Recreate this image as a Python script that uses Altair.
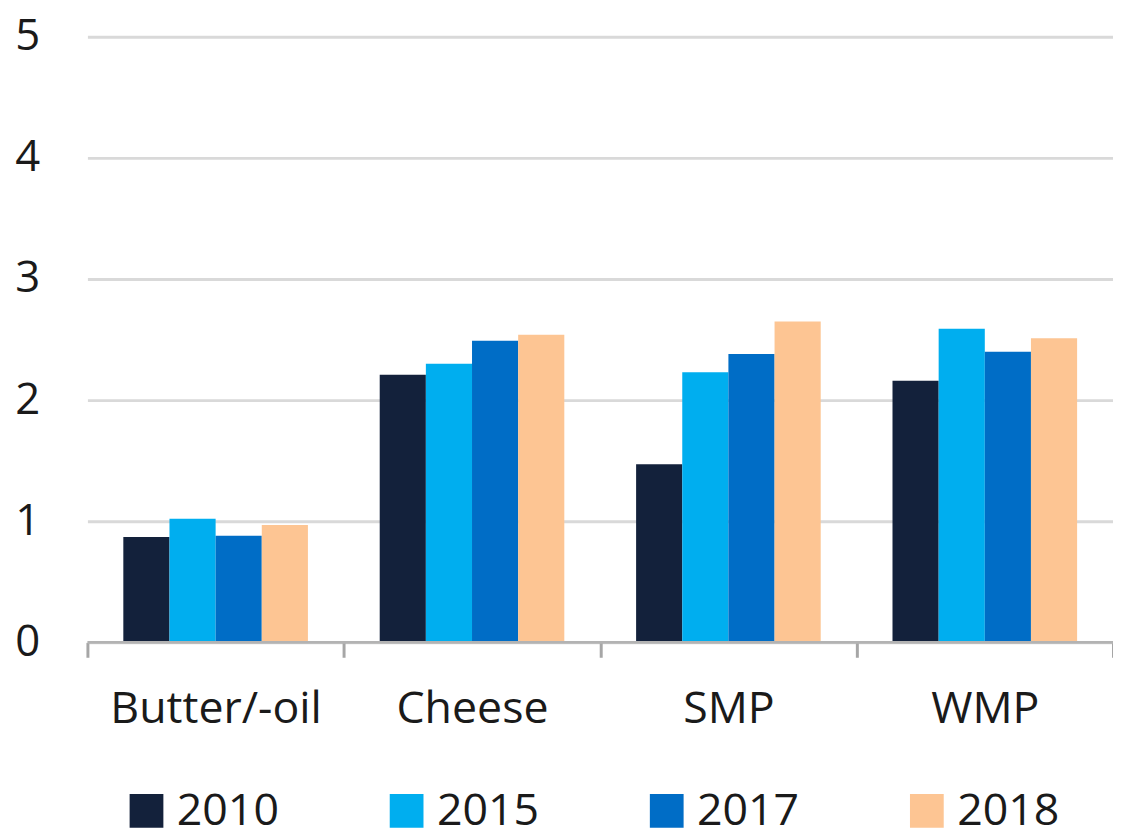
import altair as alt
import pandas as pd

categories = ["Butter/-oil", "Cheese", "SMP", "WMP"]
years = ["2010", "2015", "2017", "2018"]
v2010 = [0.87, 2.21, 1.47, 2.16]
v2015 = [1.02, 2.30, 2.23, 2.59]
v2017 = [0.88, 2.49, 2.38, 2.40]
v2018 = [0.97, 2.54, 2.65, 2.51]
colors = ["#13213b", "#00aeef", "#006dc6", "#fdc593"]

rows = []
for yr, vals in zip(years, [v2010, v2015, v2017, v2018]):
    for c, v in zip(categories, vals):
        rows.append({"category": c, "year": yr, "value": v})
df = pd.DataFrame(rows)

FONT = "Open Sans"
TXT = "#1a1a1a"

chart = alt.Chart(df).mark_bar().encode(
    x=alt.X("category:N", sort=categories, title=None,
            scale=alt.Scale(paddingInner=0, paddingOuter=0),
            axis=alt.Axis(labelAngle=0, tickBand="extent", ticks=True,
                          tickSize=15, tickWidth=3, tickColor="#a6a6a6",
                          domain=False, labelFontSize=45, labelFont=FONT,
                          labelColor=TXT, labelPadding=52, labelBaseline="middle",
                          labelLimit=1000)),
    xOffset=alt.XOffset("year:N", sort=years,
                        scale=alt.Scale(paddingInner=0, paddingOuter=0.7778)),
    y=alt.Y("value:Q", title=None,
            scale=alt.Scale(domain=[0, 5], nice=False),
            axis=alt.Axis(values=[0, 1, 2, 3, 4, 5], format="d", domain=False, ticks=False,
                          grid=True, gridColor="#d9d9d9", gridWidth=3,
                          labelFontSize=44, labelFont=FONT, labelColor=TXT,
                          labelPadding=48)),
    color=alt.Color("year:N", sort=years,
                    scale=alt.Scale(domain=years, range=colors),
                    legend=alt.Legend(title=None, orient="none", direction="horizontal",
                                      legendX=37, legendY=757, symbolType="square",
                                      symbolSize=1156, symbolStrokeWidth=0,
                                      labelFontSize=45, labelFont=FONT, labelColor=TXT,
                                      labelOffset=8, columnPadding=106, padding=0)),
)

zero = alt.Chart(pd.DataFrame({"v": [0]})).mark_rule(color="#b3b3b3", strokeWidth=3).encode(y="v:Q")

final = alt.layer(chart, zero).properties(
    width=1033, height=610,
    autosize=alt.AutoSizeParams(type="none"),
    padding={"left": 80, "top": 26, "right": 0, "bottom": 184},
).configure_view(stroke=None)

final.save("out.html", embed_options={"renderer": "svg", "actions": False})
